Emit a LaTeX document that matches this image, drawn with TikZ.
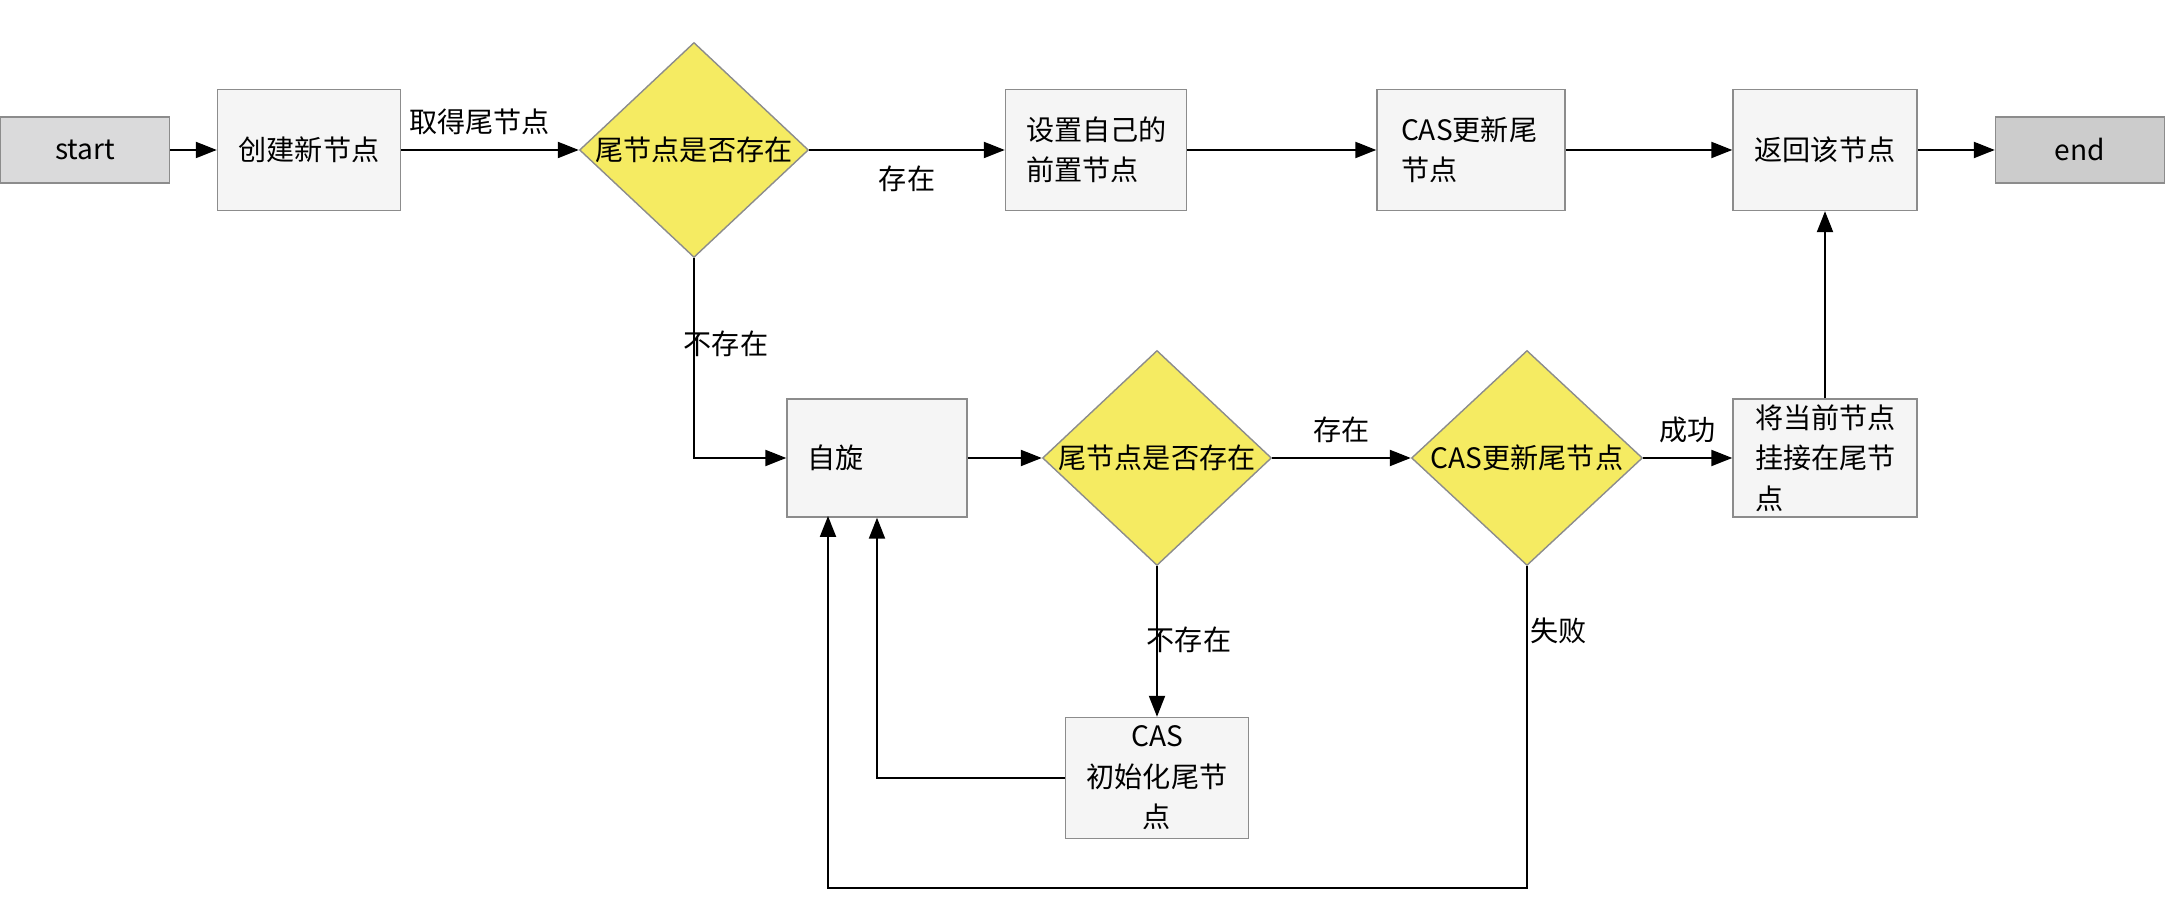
\documentclass[tikz,border=0pt]{standalone}
\usepackage{fontspec}
\setmainfont{Noto Sans CJK SC}
\usetikzlibrary{shapes.geometric,arrows.meta}

\definecolor{boxfill}{HTML}{F5F5F5}
\definecolor{boxline}{HTML}{8C8C8C}
\definecolor{startfill}{HTML}{DADADB}
\definecolor{endfill}{HTML}{CCCCCC}
\definecolor{askfill}{HTML}{F5EB62}

\newcommand{\dtext}[1]{\makebox[0pt]{#1}}

\begin{document}
\begin{tikzpicture}[font=\fontsize{8}{11.5}\selectfont,
  proc/.style={rectangle,draw=boxline,fill=boxfill,minimum width=1.83cm,minimum height=1.21cm,inner sep=0pt},
  leftproc/.style={proc,text width=1.40cm,align=left},
  term/.style={rectangle,draw=boxline,minimum width=1.69cm,minimum height=0.66cm,inner sep=0pt},
  ask/.style={diamond,draw=boxline,fill=askfill,minimum width=2.29cm,minimum height=2.15cm,inner sep=0pt},
  flow/.style={-{Triangle[length=0.21cm,width=0.16cm]},line width=0.6pt}]
\useasboundingbox (0,0) rectangle (21.76,9.10);
% \draw[help lines] (0,0) grid (21,9);
\node (start) [term,fill=startfill] at (0.85,7.60) {start};
\node (create) [proc] at (3.09,7.60) {创建新节点};
\node (hastail) [ask] at (6.94,7.60) {\dtext{尾节点是否存在}};
\node (setprev) [leftproc,minimum width=1.81cm] at (10.96,7.60) {设置自己的\\前置节点};
\node (castail) [leftproc,minimum width=1.88cm] at (14.71,7.60) {CAS更新尾\\节点};
\node (ret) [proc,minimum width=1.84cm] at (18.25,7.60) {返回该节点};
\node (end) [term,fill=endfill] at (20.80,7.60) {end};
%
\node (spin) [leftproc,minimum width=1.80cm,minimum height=1.18cm] at (8.77,4.52) {自旋};
\node (hastail2) [ask] at (11.57,4.52) {\dtext{尾节点是否存在}};
\node (castail2) [ask,minimum width=2.31cm] at (15.27,4.52) {\dtext{CAS更新尾节点}};
\node (attach) [leftproc,minimum width=1.84cm,minimum height=1.18cm] at (18.25,4.52) {将当前节点\\挂接在尾节\\点};
\node (initcas) [proc,align=center] at (11.57,1.32) {CAS\\初始化尾节\\点};
\coordinate (loopbot) at (15.27,0.22);
\coordinate (loopin) at (8.28,3.94);
%
\draw[flow] (start) -- (create);
\draw[flow] (create) -- node[above,pos=0.44,yshift=0.02cm] {取得尾节点} (hastail);
\draw[flow] (hastail) -- node[below,yshift=-0.03cm] {存在} (setprev);
\draw[flow] (setprev) -- (castail);
\draw[flow] (castail) -- (ret);
\draw[flow] (ret) -- (end);
\draw[flow] (hastail.south) |- node[pos=0.215,anchor=west,xshift=-0.23cm] {不存在} (spin.west);
\draw[flow] (spin) -- (hastail2);
\draw[flow] (hastail2) -- node[above,yshift=0.02cm] {存在} (castail2);
\draw[flow] (castail2) -- node[above,yshift=0.02cm] {成功} (attach);
\draw[flow] (attach) -- (ret);
\draw[flow] (hastail2.south) -- node[pos=0.49,anchor=west,xshift=-0.23cm] {不存在} (initcas.north);
\draw[flow] (initcas.west) -| (spin.south);
\draw[flow] (castail2.south) -- node[pos=0.20,anchor=west,xshift=-0.09cm] {失败} (loopbot) -| (loopin);
\end{tikzpicture}
\end{document}
